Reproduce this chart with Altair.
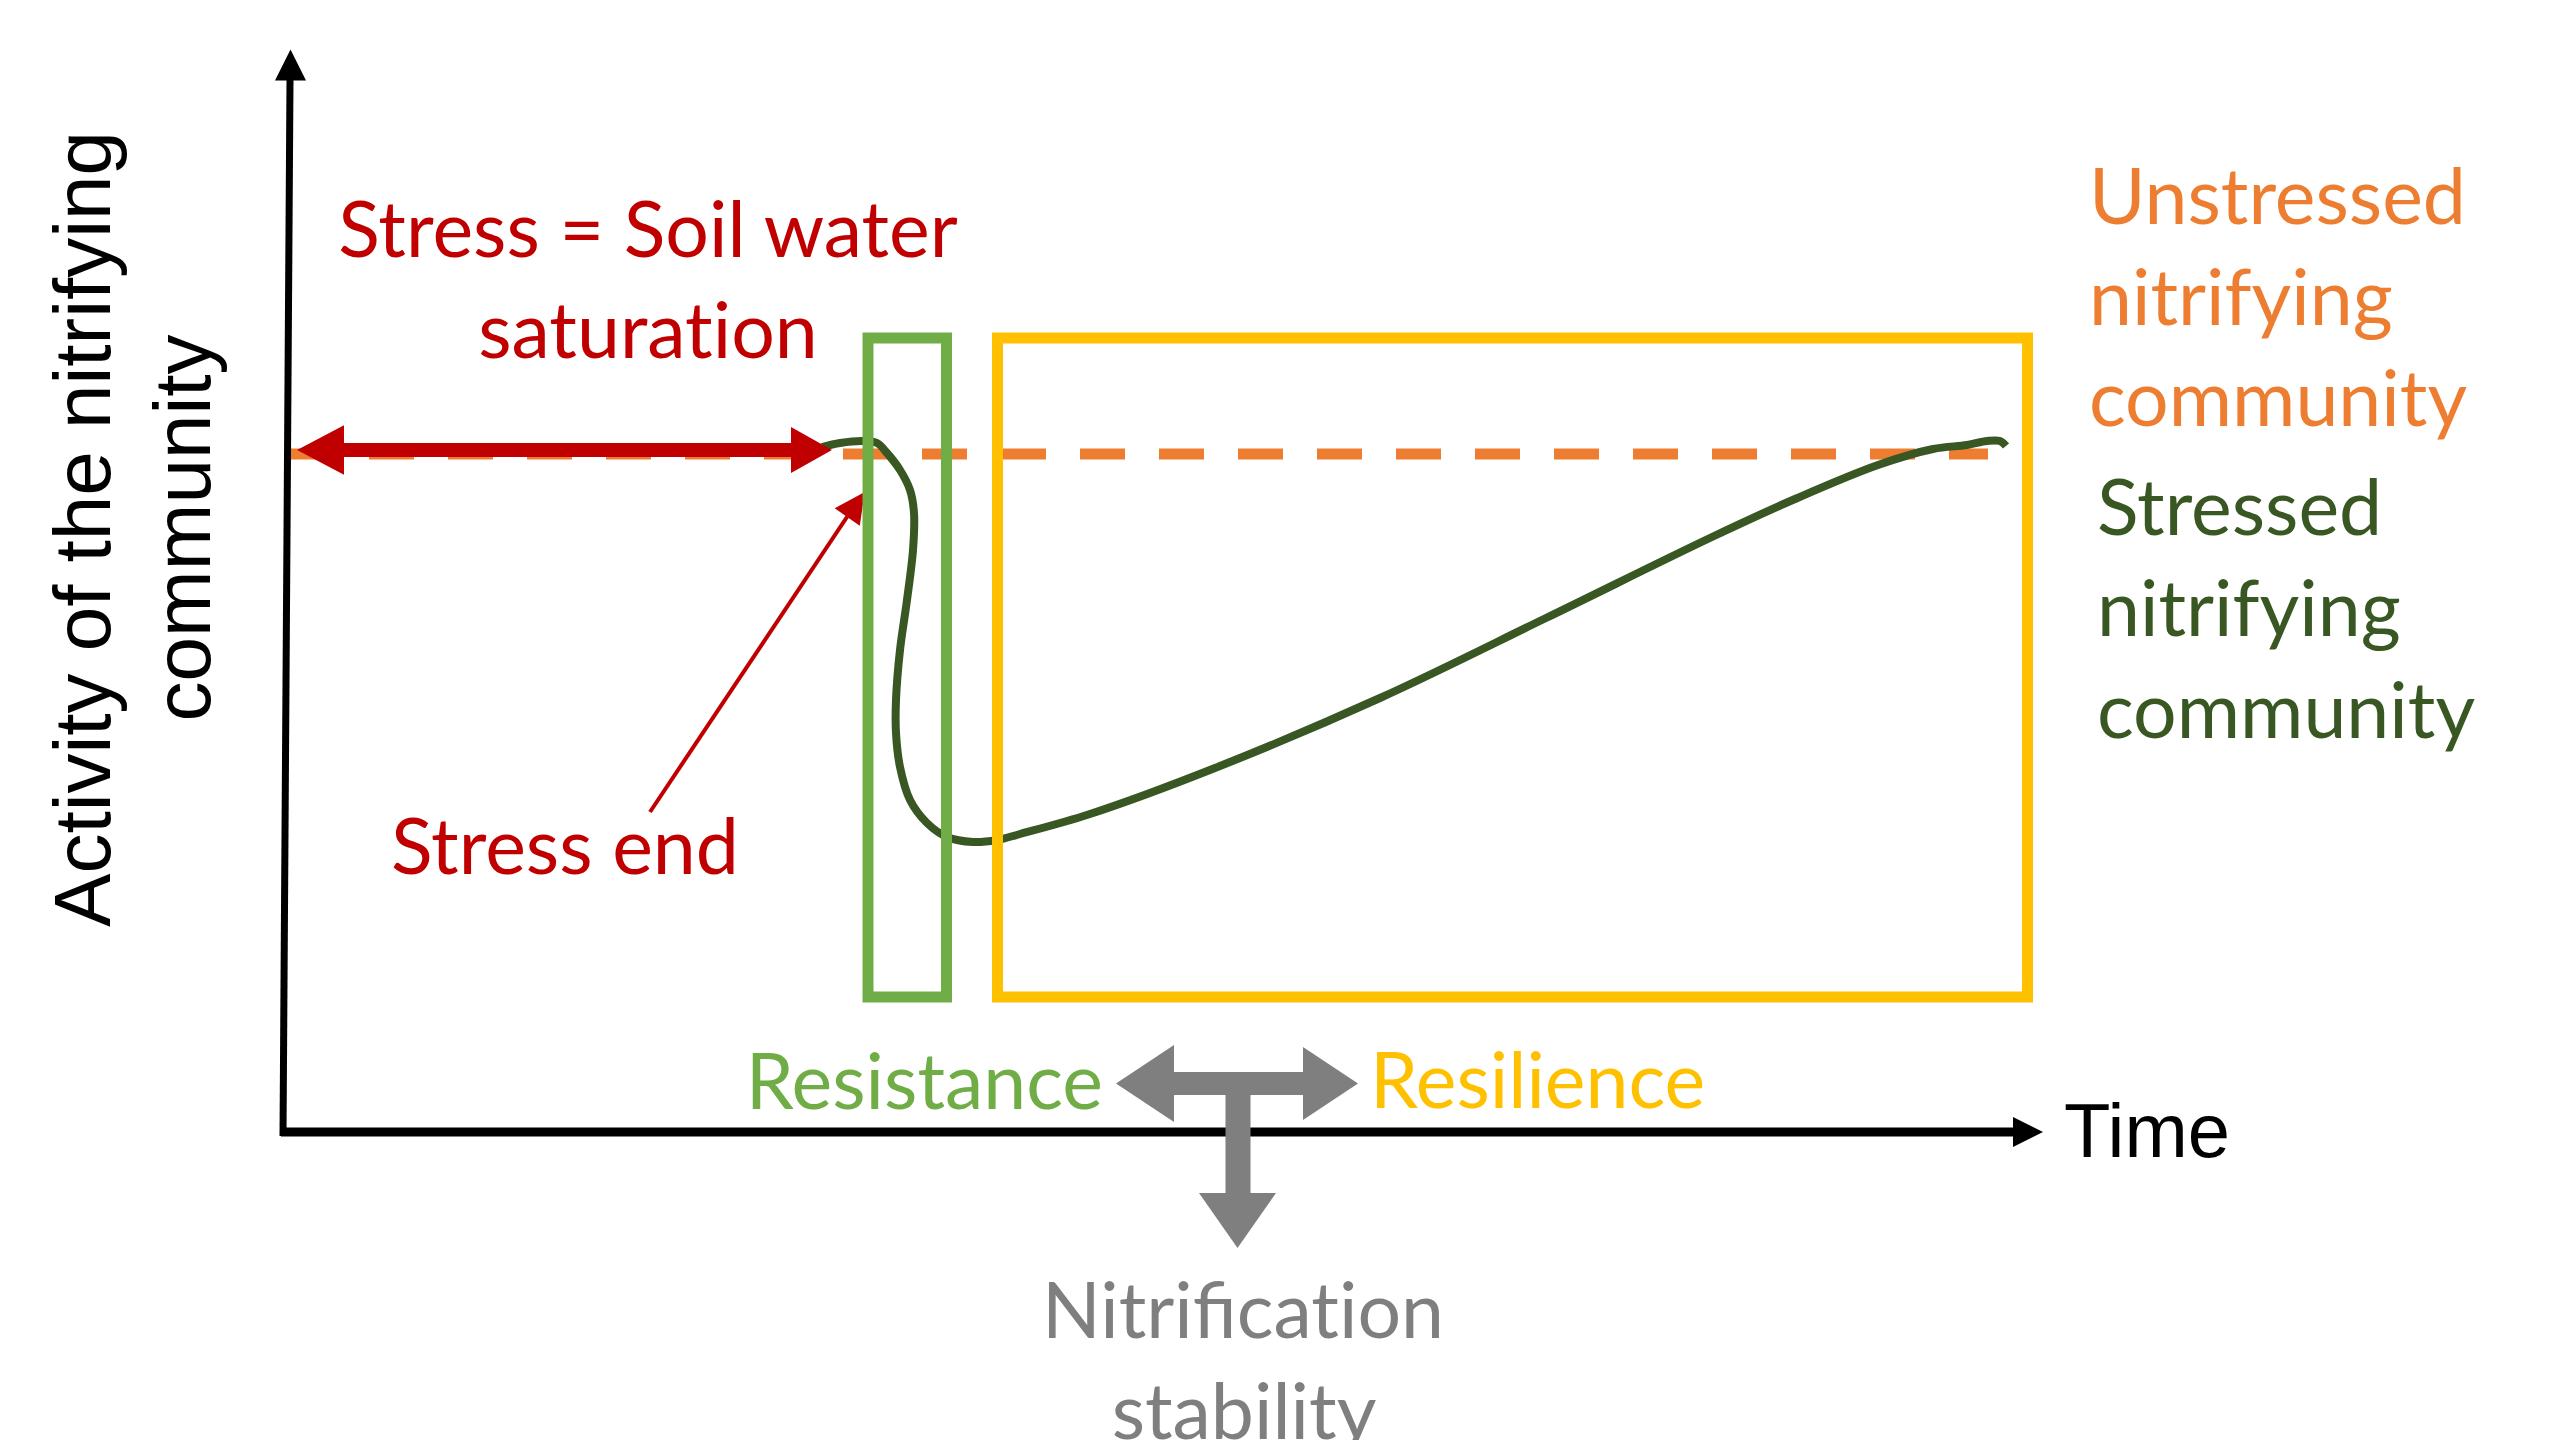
import altair as alt
import pandas as pd

# ---------------------------------------------------------------
# Diagram units: horizontal position (time) and vertical position
# (activity, downward) on a 2559 x 1440 canvas grid.
# ---------------------------------------------------------------

# Stressed nitrifying community (activity trajectory)
curve_x = [822, 840, 863, 877, 887, 900, 910, 914, 913, 907, 900, 896, 896,
           900, 910, 927, 947, 973, 997, 1020, 1090, 1215, 1380, 1546, 1712,
           1795, 1878, 1933, 1967, 1987, 2000, 2006]
curve_y = [447, 443, 441, 443, 453, 470, 490, 513, 550, 600, 650, 700, 733,
           767, 800, 823, 837, 842, 840, 834, 814, 768, 698, 618, 537,
           499, 465, 449, 445, 441, 441, 446]

# Unstressed community (constant reference level)
ref_x = [290, 1988]
ref_y = [454, 454]

# Phase windows (resistance, resilience)
phase_names = ["Resistance", "Resilience"]
phase_x0 = [868, 997.5]
phase_x1 = [946.5, 2027.5]
phase_y0 = [338, 338]
phase_y1 = [997, 997]
phase_colors = ["#70ad47", "#ffc000"]

# Straight segments: axes, stress period, stress-end pointer, stability arrows
seg_name = ["y axis", "x axis", "stress period", "stress end", "stab h", "stab v"]
seg_x = [290, 281, 322, 650, 1160, 1238]
seg_y = [80, 1132, 450, 812, 1083.5, 1083.5]
seg_x2 = [283, 2016, 808, 853, 1318, 1238]
seg_y2 = [1136, 1132, 450, 508, 1083.5, 1200]
seg_w = [7, 9, 14, 4, 23, 25]
seg_color = ["#000000", "#000000", "#c00000", "#c00000", "#7f7f7f", "#7f7f7f"]

# Arrow heads
UP = "M0,-1L1,1L-1,1Z"
RIGHT = "M1,0L-1,-1L-1,1Z"
LEFT = "M-1,0L1,-1.05L1,1.05Z"
RIGHT_R = "M1,0L-1,-1.12L-1,1.12Z"
LEFT_G = "M-1,0L1,-1.33L1,1.33Z"
RIGHT_G = "M1,0L-1,-1.33L-1,1.33Z"
DOWN_G = "M0,1L-1.4,-1L1.4,-1Z"
head_x = [290.5, 2028, 320.5, 811.5, 856, 1145, 1330.5, 1237.5]
head_y = [65, 1132, 450, 450, 504.5, 1083.5, 1083.5, 1220.5]
head_shape = [UP, RIGHT, LEFT, RIGHT_R, UP, LEFT_G, RIGHT_G, DOWN_G]
head_size = [961, 900, 2209, 1681, 936, 3364, 3025, 3025]
head_angle = [0, 0, 0, 0, 35, 0, 0, 0]
head_color = ["#000000", "#000000", "#c00000", "#c00000", "#c00000",
              "#7f7f7f", "#7f7f7f", "#7f7f7f"]

# Labels (a zero-width non-joiner keeps "t"+"i" from forming a ligature)
ZW = "\u200c"
center_text = ["Stress = Soil water", f"satura{'t' + ZW + 'i'}on", "Stress end",
               f"Nitrifica{'t' + ZW + 'i'}on", "stability"]
center_x = [648, 648, 565, 1243, 1244]
center_y = [257, 358, 874, 1338, 1439]
center_color = ["#c00000", "#c00000", "#c00000", "#7f7f7f", "#7f7f7f"]

left_text = ["Resilience", "Unstressed", "nitrifying", "community",
             "Stressed", "nitrifying", "community"]
left_x = [1370, 2089, 2089, 2089, 2097, 2097, 2097]
left_y = [1108, 224, 325, 426, 535, 636, 738]
left_color = ["#ffc000", "#ed7d31", "#ed7d31", "#ed7d31",
              "#385723", "#385723", "#385723"]

right_text = ["Resistance"]
right_x = [1103]
right_y = [1109]
right_color = ["#70ad47"]

x_title = ["Time"]
x_title_x = [2064]
x_title_y = [1157]

y_title = ["Activity of the nitrifying", "community"]
y_title_x = [110, 210]
y_title_y = [529, 528]

# ---------------------------------------------------------------
X = alt.Scale(domain=[8, 2551], nice=False, zero=False)
Y = alt.Scale(domain=[8, 1432], nice=False, zero=False, reverse=True)


def xe(f="x"):
    return alt.X(f"{f}:Q", scale=X, axis=None)


def ye(f="y"):
    return alt.Y(f"{f}:Q", scale=Y, axis=None)


curve_df = pd.DataFrame({"x": curve_x, "y": curve_y, "i": range(len(curve_x))})
ref_df = pd.DataFrame({"x": ref_x, "y": ref_y})
phase_df = pd.DataFrame({"name": phase_names, "x": phase_x0, "x2": phase_x1,
                         "y": phase_y0, "y2": phase_y1, "c": phase_colors})
seg_df = pd.DataFrame({"name": seg_name, "x": seg_x, "y": seg_y, "x2": seg_x2,
                       "y2": seg_y2, "w": seg_w, "c": seg_color})
head_df = pd.DataFrame({"x": head_x, "y": head_y, "shape": head_shape,
                        "size": head_size, "angle": head_angle, "c": head_color})

ref_line = alt.Chart(ref_df).mark_line(
    color="#ed7d31", strokeWidth=11, strokeDash=[45, 34], strokeCap="butt"
).encode(x=xe(), y=ye())

curve = alt.Chart(curve_df).mark_line(
    color="#385723", strokeWidth=8, interpolate="catmull-rom"
).encode(x=xe(), y=ye(), order="i:Q")

segs = alt.Chart(seg_df).mark_rule(strokeCap="butt").encode(
    x=xe(), y=ye(), x2="x2:Q", y2="y2:Q",
    color=alt.Color("c:N", scale=None),
    strokeWidth=alt.StrokeWidth("w:Q", scale=None),
)

heads = alt.Chart(head_df).mark_point(filled=True, opacity=1, strokeWidth=0).encode(
    x=xe(), y=ye(),
    shape=alt.Shape("shape:N", scale=None),
    size=alt.Size("size:Q", scale=None),
    angle=alt.Angle("angle:Q", scale=None),
    fill=alt.Fill("c:N", scale=None),
)

phases = alt.Chart(phase_df).mark_rect(fillOpacity=0, strokeWidth=11).encode(
    x=xe(), x2="x2:Q", y=ye(), y2="y2:Q",
    stroke=alt.Stroke("c:N", scale=None),
)

FONT = "Lato"
FS = 77


def text_layer(texts, xs, ys, colors, align, font=FONT, size=FS, angle=0):
    df = pd.DataFrame({"t": texts, "x": xs, "y": ys, "c": colors})
    kw = dict(align=align, baseline="alphabetic", font=font, fontSize=size)
    if angle:
        kw["angle"] = angle
    return alt.Chart(df).mark_text(**kw).encode(
        x=xe(), y=ye(), text="t:N", color=alt.Color("c:N", scale=None)
    )


t_center = text_layer(center_text, center_x, center_y, center_color, "center")
t_left = text_layer(left_text, left_x, left_y, left_color, "left")
t_right = text_layer(right_text, right_x, right_y, right_color, "right")
t_time = text_layer(x_title, x_title_x, x_title_y, ["#000000"], "left",
                    font="Liberation Sans", size=76)
t_ylab = text_layer(y_title, y_title_x, y_title_y, ["#000000", "#000000"], "center",
                    font="Liberation Sans", size=80, angle=270)

chart = alt.layer(
    ref_line, curve, segs, heads, phases,
    t_center, t_left, t_right, t_time, t_ylab,
).properties(
    width=2543, height=1424, padding=0, background="#ffffff"
).configure_view(stroke=None)

chart.save("out.html", embed_options={"renderer": "svg", "actions": False})
